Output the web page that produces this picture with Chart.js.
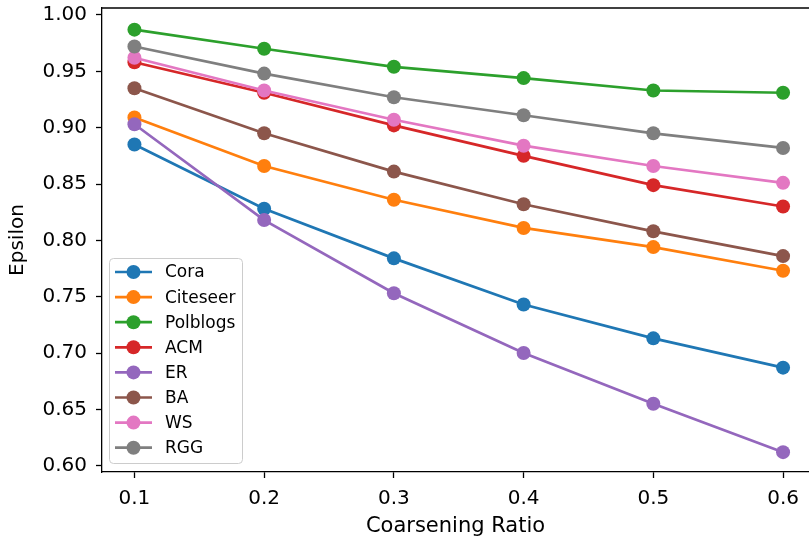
<!DOCTYPE html>
<html>
<head>
<meta charset="utf-8">
<script src="https://cdn.jsdelivr.net/npm/chart.js@4.4.0/dist/chart.umd.min.js"></script>
<style>
  html, body { margin: 0; padding: 0; background: #fff; overflow: hidden; }
  #wrap { width: 816px; height: 537px; position: relative; }
</style>
</head>
<body>
<div id="wrap"><canvas id="chart"></canvas></div>
<script>
// Data
const ratios = [0.1, 0.2, 0.3, 0.4, 0.5, 0.6];
const seriesNames = ['Cora', 'Citeseer', 'Polblogs', 'ACM', 'ER', 'BA', 'WS', 'RGG'];
const cora     = [0.885, 0.828, 0.784, 0.743, 0.713, 0.687];
const citeseer = [0.909, 0.866, 0.836, 0.811, 0.794, 0.773];
const polblogs = [0.987, 0.970, 0.954, 0.944, 0.933, 0.931];
const acm      = [0.958, 0.931, 0.902, 0.875, 0.849, 0.830];
const er       = [0.903, 0.818, 0.753, 0.700, 0.655, 0.612];
const ba       = [0.935, 0.895, 0.861, 0.832, 0.808, 0.786];
const ws       = [0.962, 0.933, 0.907, 0.884, 0.866, 0.851];
const rgg      = [0.972, 0.948, 0.927, 0.911, 0.895, 0.882];
const xTicks = [0.1, 0.2, 0.3, 0.4, 0.5, 0.6];
const yTicks = [0.60, 0.65, 0.70, 0.75, 0.80, 0.85, 0.90, 0.95, 1.00];

const allSeries = [cora, citeseer, polblogs, acm, er, ba, ws, rgg];
const colors = ['#1f77b4', '#ff7f0e', '#2ca02c', '#d62728', '#9467bd', '#8c564b', '#e377c2', '#7f7f7f'];
const FONT = "'DejaVu Sans', sans-serif";

const datasets = allSeries.map((vals, i) => ({
    label: seriesNames[i],
    data: vals.map((v, j) => ({ x: ratios[j], y: v })),
    borderColor: colors[i],
    backgroundColor: colors[i],
    borderWidth: 2.7,
    pointRadius: 7,
    pointHoverRadius: 7,
    pointBorderWidth: 0,
    tension: 0,
    // later series drawn on top, like matplotlib
    order: allSeries.length - 1 - i
}));

// top spine + legend box inside the plot
const extras = {
    id: 'extras',
    afterDraw(chart) {
        const ctx = chart.ctx;
        const a = chart.chartArea;
        ctx.save();
        ctx.strokeStyle = '#000';
        ctx.lineWidth = 1.3;
        ctx.beginPath();
        ctx.moveTo(a.left, a.top);
        ctx.lineTo(a.right + 2, a.top);
        ctx.stroke();

        // legend
        const bx = a.left + 7.5, by = 258.5, bw = 133, bh = 205;
        ctx.beginPath();
        ctx.roundRect(bx, by, bw, bh, 4);
        ctx.fillStyle = 'rgba(255,255,255,0.8)';
        ctx.fill();
        ctx.strokeStyle = '#cccccc';
        ctx.lineWidth = 1;
        ctx.stroke();

        ctx.font = '17px ' + FONT;
        ctx.textBaseline = 'middle';
        ctx.textAlign = 'left';
        seriesNames.forEach((name, i) => {
            const y = 272 + i * 25.1;
            ctx.strokeStyle = colors[i];
            ctx.lineWidth = 2.7;
            ctx.beginPath();
            ctx.moveTo(115, y);
            ctx.lineTo(152, y);
            ctx.stroke();
            ctx.fillStyle = colors[i];
            ctx.beginPath();
            ctx.arc(133.5, y, 7, 0, Math.PI * 2);
            ctx.fill();
            ctx.fillStyle = '#000';
            ctx.fillText(name, 165, y + 1);
        });
        ctx.restore();
    }
};

new Chart(document.getElementById('chart'), {
    type: 'line',
    data: { datasets },
    plugins: [extras],
    options: {
        responsive: true,
        maintainAspectRatio: false,
        animation: false,
        layout: { padding: { top: 8, right: 1, left: 0, bottom: 0 } },
        plugins: {
            legend: { display: false },
            tooltip: { enabled: false }
        },
        scales: {
            x: {
                type: 'linear',
                min: 0.075,
                max: 0.62,
                afterBuildTicks: (axis) => { axis.ticks = xTicks.map(v => ({ value: v })); },
                afterFit: (axis) => {
                    axis.height = 65;
                    axis.paddingLeft = 0;
                    axis.paddingRight = 0;
                },
                grid: { drawOnChartArea: false, drawTicks: true, tickLength: 6, color: '#000', tickWidth: 1.3 },
                border: { display: true, color: '#000', width: 1.3 },
                ticks: {
                    color: '#000',
                    font: { family: FONT, size: 20 },
                    padding: 9,
                    maxRotation: 0,
                    callback: (v) => Number(v).toFixed(1)
                },
                title: {
                    display: true,
                    text: 'Coarsening Ratio',
                    color: '#000',
                    font: { family: FONT, size: 21 },
                    padding: { top: 4, bottom: -2 }
                }
            },
            y: {
                type: 'linear',
                min: 0.5944,
                max: 1.0062,
                afterBuildTicks: (axis) => { axis.ticks = yTicks.map(v => ({ value: v })); },
                afterFit: (axis) => {
                    axis.width = 102;
                    axis.paddingTop = 0;
                    axis.paddingBottom = 0;
                },
                grid: { drawOnChartArea: false, drawTicks: true, tickLength: 6, color: '#000', tickWidth: 1.3 },
                border: { display: true, color: '#000', width: 1.3 },
                ticks: {
                    color: '#000',
                    font: { family: FONT, size: 20 },
                    padding: 9,
                    callback: (v) => Number(v).toFixed(2)
                },
                title: {
                    display: true,
                    text: 'Epsilon',
                    color: '#000',
                    font: { family: FONT, size: 20 },
                    padding: { top: 6, bottom: 4 }
                }
            }
        }
    }
});
</script>
</body>
</html>
